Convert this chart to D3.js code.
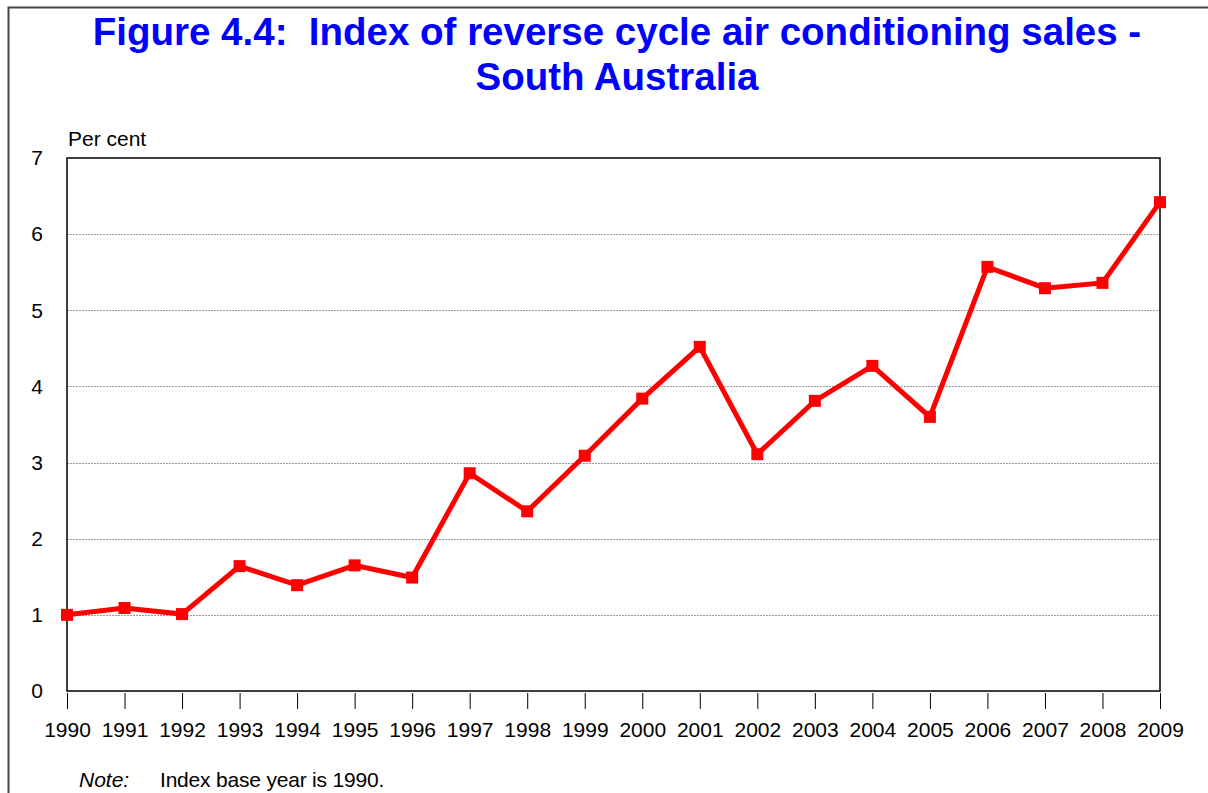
<!DOCTYPE html>
<html><head><meta charset="utf-8">
<script src="https://cdn.jsdelivr.net/npm/d3@7"></script>
<style>
html,body{margin:0;padding:0;background:#fff;}
svg{display:block;font-family:"Liberation Sans",Arial,sans-serif;}
</style></head>
<body>
<svg id="chart" width="1208" height="793"></svg>
<script>
const titleLines = ["Figure 4.4:  Index of reverse cycle air conditioning sales -", "South Australia"];
const years = [1990,1991,1992,1993,1994,1995,1996,1997,1998,1999,2000,2001,2002,2003,2004,2005,2006,2007,2008,2009];
const values = [1.00,1.09,1.01,1.64,1.39,1.65,1.49,2.86,2.36,3.09,3.84,4.52,3.11,3.81,4.27,3.60,5.57,5.29,5.36,6.42];
const yTicks = [0,1,2,3,4,5,6,7];
const yLabel = "Per cent";
const noteLabel = "Note:";
const noteText = "Index base year is 1990.";

const svg = d3.select("#chart");
const m = {left:67, right:1160, top:158, bottom:691};
const FONT = "'Liberation Sans',Arial,sans-serif";

// page frame
svg.append("rect").attr("x",8.5).attr("y",7.5).attr("width",1240).attr("height",820)
  .attr("fill","none").attr("stroke","#444").attr("stroke-width",2);

// title
svg.append("g").selectAll("text").data(titleLines).join("text")
  .attr("x",617).attr("y",(d,i)=>45+i*45)
  .attr("text-anchor","middle").attr("fill","#0000ff")
  .attr("font-size",38.5).attr("font-weight","bold")
  .style("white-space","pre").attr("xml:space","preserve")
  .text(d=>d);

const x = d3.scaleLinear().domain([d3.min(years), d3.max(years)]).range([m.left, m.right]);
const y = d3.scaleLinear().domain([0,7]).range([m.bottom, m.top]);

// gridlines
svg.append("g").selectAll("line").data(yTicks.filter(t=>t>0 && t<7)).join("line")
  .attr("x1",m.left).attr("x2",m.right)
  .attr("y1",d=>Math.round(y(d))+0.5).attr("y2",d=>Math.round(y(d))+0.5)
  .attr("stroke","#999").attr("stroke-width",1).attr("stroke-dasharray","2,1");

// frame
svg.append("rect").attr("x",m.left).attr("y",m.top)
  .attr("width",m.right-m.left).attr("height",m.bottom-m.top)
  .attr("fill","none").attr("stroke","#000").attr("stroke-width",1.5);

// y axis labels
const yAxis = d3.axisLeft(y).tickValues(yTicks).tickSize(0).tickPadding(0).tickFormat(d3.format("d"));
const gy = svg.append("g").attr("transform",`translate(${m.left-24},0)`).call(yAxis);
gy.select(".domain").remove();
gy.selectAll("text").attr("font-size",21).attr("fill","#000").attr("font-family",FONT);

// x axis
const xAxis = d3.axisBottom(x).tickValues(years).tickSize(16).tickPadding(13).tickFormat(d3.format("d"));
const gx = svg.append("g").attr("transform",`translate(0,${m.bottom+2})`).call(xAxis);
gx.select(".domain").remove();
gx.selectAll(".tick line").attr("stroke","#000").attr("stroke-width",1);
gx.selectAll("text").attr("font-size",21).attr("fill","#000").attr("font-family",FONT);

// y label
svg.append("text").attr("x",68).attr("y",146).attr("font-size",21).attr("fill","#000").text(yLabel);

// line
const data = years.map((yr,i)=>({yr, v:values[i]}));
svg.append("path").datum(data)
  .attr("fill","none").attr("stroke","#ff0000").attr("stroke-width",5)
  .attr("stroke-linejoin","miter")
  .attr("d", d3.line().x(d=>x(d.yr)).y(d=>y(d.v)));

svg.append("g").selectAll("rect").data(data).join("rect")
  .attr("x",d=>x(d.yr)-6).attr("y",d=>y(d.v)-6)
  .attr("width",12).attr("height",12).attr("fill","#ff0000");

// note
svg.append("text").attr("x",79).attr("y",787).attr("font-size",21).attr("font-style","italic").attr("fill","#000").text(noteLabel);
svg.append("text").attr("x",160).attr("y",787).attr("font-size",21).attr("fill","#000").attr("letter-spacing",-0.2).text(noteText);
</script>
</body></html>
